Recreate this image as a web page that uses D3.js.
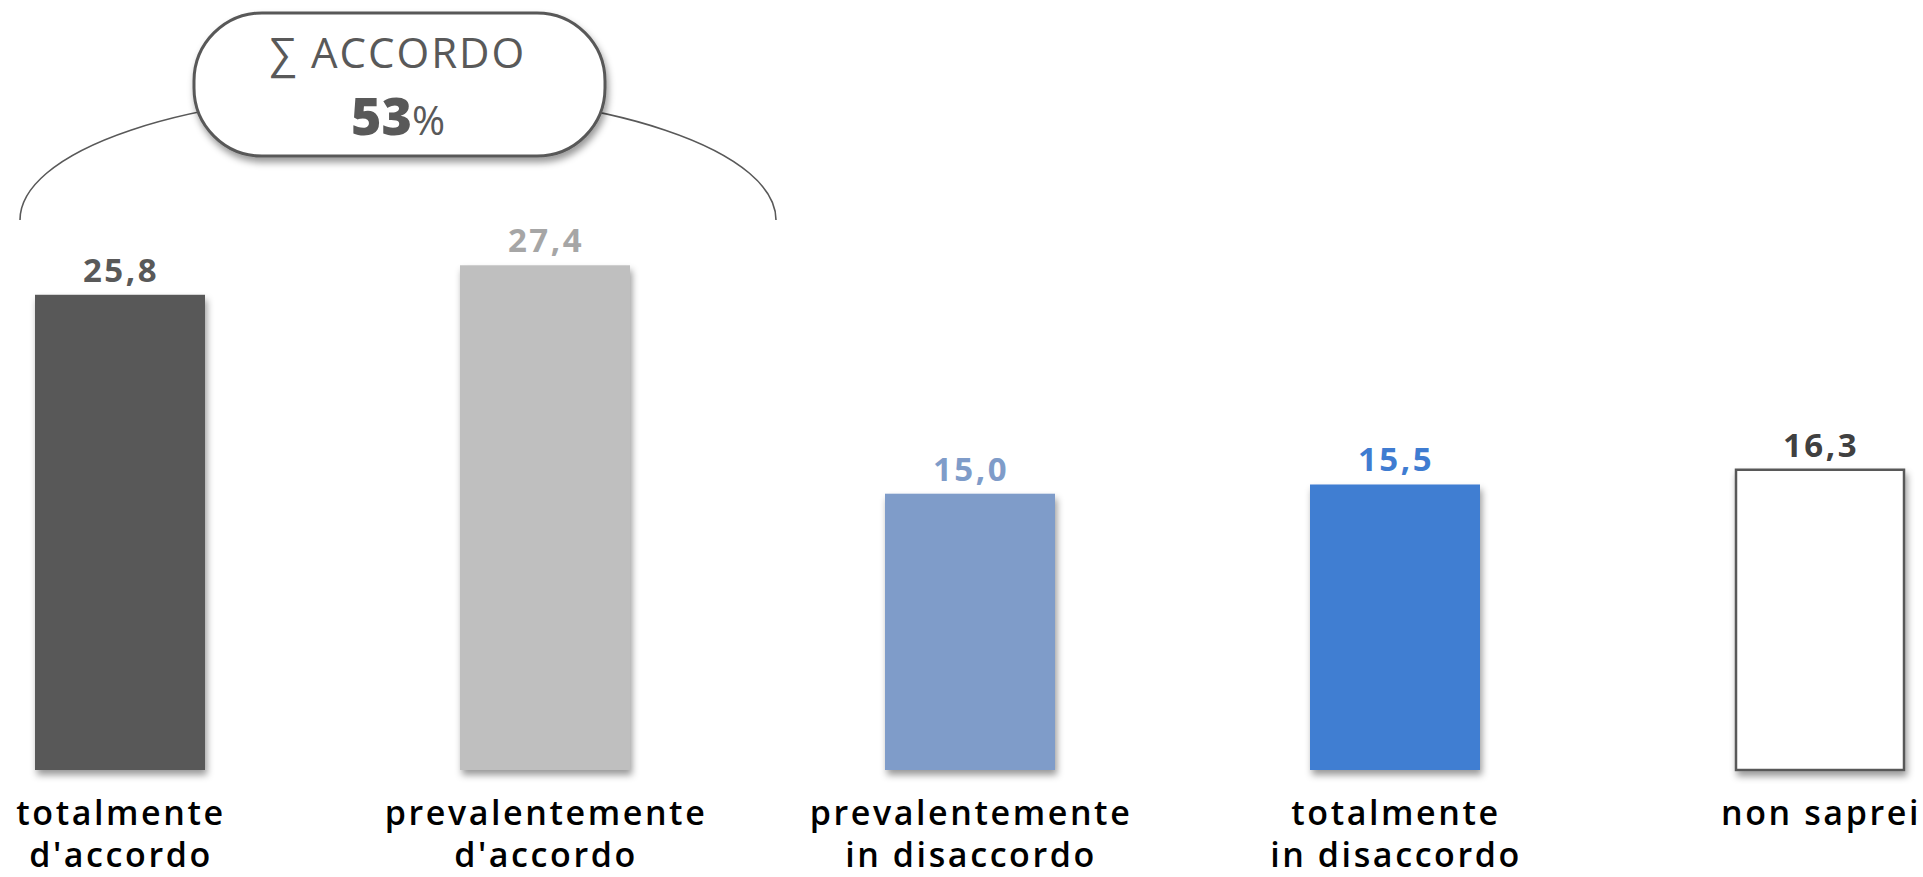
<!DOCTYPE html>
<html><head><meta charset="utf-8">
<script src="https://cdn.jsdelivr.net/npm/d3@7"></script>
<style>
html,body{margin:0;padding:0;background:#fff;}
svg{display:block;}
</style></head>
<body>
<svg id="chart" width="1923" height="877"></svg>
<script>
// ---- data ----
const categories = ["totalmente d'accordo", "prevalentemente d'accordo", "prevalentemente in disaccordo", "totalmente in disaccordo", "non saprei"];
const categoryLines = [["totalmente", "d'accordo"], ["prevalentemente", "d'accordo"], ["prevalentemente", "in disaccordo"], ["totalmente", "in disaccordo"], ["non saprei"]];
const values = [25.8, 27.4, 15.0, 15.5, 16.3];
const barColors = ["#595959", "#bfbfbf", "#7f9cc9", "#417ed2", "#ffffff"];
const labelColors = ["#595959", "#a6a6a6", "#7f9cc9", "#3f7cd1", "#404040"];
const sumTitle = "∑ ACCORDO";
const sumValue = 53;

const svg = d3.select("#chart");
const defs = svg.append("defs");
const f = defs.append("filter").attr("id", "shadow").attr("x", "-20%").attr("y", "-20%").attr("width", "140%").attr("height", "140%");
f.append("feDropShadow").attr("dx", 2).attr("dy", 5).attr("stdDeviation", 3.5).attr("flood-color", "#000").attr("flood-opacity", 0.4);

const locale = d3.formatLocale({decimal: ",", thousands: ".", grouping: [3], currency: ["", "€"]});
const fmt = locale.format(".1f");

const x = d3.scaleBand().domain(categories).range([35, 1905]).paddingInner(0.6).paddingOuter(0);
const y = d3.scaleLinear().domain([0, 30]).range([770, 217.4]);

// bars
svg.append("g").selectAll("rect").data(values).join("rect")
  .attr("x", (d, i) => x(categories[i]) + (i === 4 ? 1 : 0))
  .attr("y", d => y(d))
  .attr("width", (d, i) => x.bandwidth() - (i === 4 ? 2 : 0))
  .attr("height", d => y(0) - y(d))
  .attr("fill", (d, i) => barColors[i])
  .attr("stroke", (d, i) => i === 4 ? "#595959" : "none")
  .attr("stroke-width", 2.5)
  .attr("filter", "url(#shadow)");

// value labels
svg.append("g").selectAll("text").data(values).join("text")
  .attr("x", (d, i) => x(categories[i]) + x.bandwidth() / 2 + 1)
  .attr("y", d => y(d) - 13)
  .attr("text-anchor", "middle")
  .attr("font-family", "'Open Sans', sans-serif")
  .attr("font-weight", 700)
  .attr("font-size", 33)
  .attr("letter-spacing", 2.5)
  .attr("fill", (d, i) => labelColors[i])
  .text(d => fmt(d));

// category labels
const cl = svg.append("g").selectAll("text").data(categoryLines).join("text")
  .attr("x", (d, i) => x(categories[i]) + x.bandwidth() / 2 + 1)
  .attr("y", 825)
  .attr("text-anchor", "middle")
  .attr("font-family", "'Open Sans', sans-serif")
  .attr("font-weight", 600)
  .attr("font-size", 34)
  .attr("letter-spacing", 2.6)
  .attr("fill", "#000");
cl.selectAll("tspan").data(d => d).join("tspan")
  .attr("x", function() { return +d3.select(this.parentNode).attr("x"); })
  .attr("dy", (d, j) => j === 0 ? 0 : 42)
  .text(d => d);

// bracket annotation
const ann = svg.append("g");
ann.append("path")
  .attr("d", "M 20,220 A 378,127 0 0 1 776,220")
  .attr("fill", "none").attr("stroke", "#595959").attr("stroke-width", 1.6);
ann.append("rect")
  .attr("x", 194).attr("y", 13).attr("width", 411).attr("height", 143).attr("rx", 68).attr("ry", 68)
  .attr("fill", "#fff").attr("stroke", "#595959").attr("stroke-width", 3)
  .attr("filter", "url(#shadow)");
ann.append("text")
  .attr("x", 398).attr("y", 68).attr("text-anchor", "middle")
  .attr("font-family", "'Open Sans', sans-serif").attr("font-weight", 400)
  .attr("font-size", 42).attr("letter-spacing", 2).attr("fill", "#595959")
  .text(sumTitle);
const t2 = ann.append("text")
  .attr("x", 398).attr("y", 135).attr("text-anchor", "middle")
  .attr("fill", "#595959").attr("font-family", "'Open Sans', sans-serif");
t2.append("tspan").attr("font-weight", 800).attr("font-size", 52).text(sumValue);
t2.append("tspan").attr("font-weight", 400).attr("font-size", 40).text("%");
</script>
</body></html>
